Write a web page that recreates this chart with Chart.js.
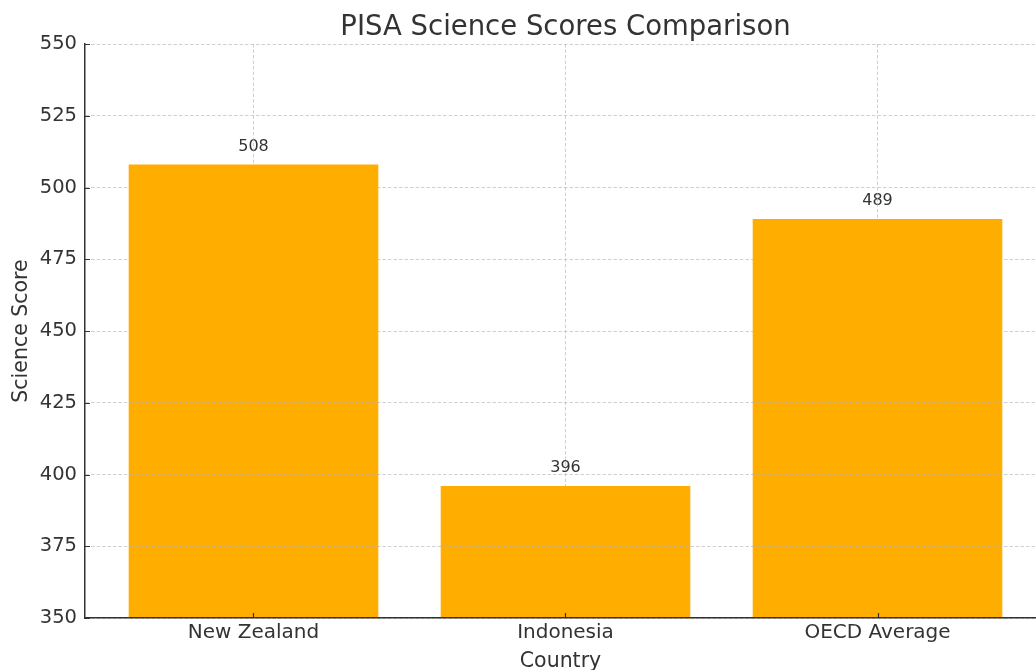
<!DOCTYPE html>
<html>
<head>
<meta charset="utf-8">
<script src="https://cdn.jsdelivr.net/npm/chart.js@4/dist/chart.umd.min.js"></script>
<style>
  html, body { margin: 0; padding: 0; background: #fff; overflow: hidden; }
  #wrap { width: 1036px; height: 670px; }
</style>
</head>
<body>
<div id="wrap"><canvas id="chart" width="1036" height="670"></canvas></div>
<script>
const countries = ["New Zealand", "Indonesia", "OECD Average"];
const scores = [508, 396, 489];
const yTicks = [350, 375, 400, 425, 450, 475, 500, 525, 550];

const FONT = "'DejaVu Sans', sans-serif";
const TEXT = "#333333";
const BAR = "#FFAE00";
const GRID = "rgba(176, 176, 176, 0.6)";

// values above bars, centred title, small inward tick marks
const extras = {
  id: "extras",
  afterDatasetsDraw(chart) {
    const ctx = chart.ctx;
    ctx.save();
    ctx.fillStyle = TEXT;
    ctx.textAlign = "center";
    ctx.textBaseline = "alphabetic";
    ctx.font = "16px " + FONT;
    chart.getDatasetMeta(0).data.forEach((bar, i) => {
      ctx.fillText(String(scores[i]), bar.x, bar.y - 14);
    });
    ctx.font = "27.5px " + FONT;
    const xs = chart.scales.x;
    const mid = xs.getPixelForValue((countries.length - 1) / 2);
    ctx.fillText("PISA Science Scores Comparison", mid, 35);
    ctx.restore();
  },
  afterDraw(chart) {
    const { ctx, chartArea, scales } = chart;
    ctx.save();
    ctx.strokeStyle = "#333333";
    ctx.lineWidth = 1.2;
    ctx.beginPath();
    scales.y.ticks.forEach((t) => {
      const y = Math.round(scales.y.getPixelForValue(t.value)) + 0.5;
      ctx.moveTo(chartArea.left, y);
      ctx.lineTo(chartArea.left + 5, y);
    });
    scales.x.ticks.forEach((t) => {
      const x = Math.round(scales.x.getPixelForValue(t.value)) + 0.5;
      ctx.moveTo(x, chartArea.bottom);
      ctx.lineTo(x, chartArea.bottom - 5);
    });
    ctx.stroke();
    ctx.restore();
  },
};

new Chart(document.getElementById("chart"), {
  type: "bar",
  data: {
    datasets: [
      {
        data: countries.map((c, i) => ({ x: i, y: scores[i] })),
        backgroundColor: BAR,
        borderWidth: 0,
        barPercentage: 0.8,
        categoryPercentage: 1,
      },
    ],
  },
  plugins: [extras],
  options: {
    responsive: false,
    animation: false,
    layout: { padding: { top: 44, right: 0, left: 0, bottom: 0 } },
    plugins: {
      legend: { display: false },
      tooltip: { enabled: false },
      title: { display: false },
    },
    scales: {
      x: {
        type: "linear",
        offset: false,
        min: -0.54,
        max: 2.508,
        afterBuildTicks: (s) => {
          s.ticks = countries.map((c, i) => ({ value: i }));
        },
        afterFit: (s) => { s.height = 52; },
        grid: { color: GRID, lineWidth: 1, drawTicks: false, offset: false, z: 1 },
        border: { color: "#333333", width: 1.5, dash: [3.5, 2], z: 2 },
        ticks: {
          color: TEXT,
          font: { family: FONT, size: 20 },
          padding: 3,
          autoSkip: false,
          maxRotation: 0,
          callback: (v) => countries[v],
        },
        title: {
          display: true,
          text: "Country",
          color: TEXT,
          font: { family: FONT, size: 20.5 },
          padding: { top: 0, bottom: -4 },
        },
      },
      y: {
        min: 350,
        max: 550,
        afterBuildTicks: (s) => {
          s.ticks = yTicks.map((v) => ({ value: v }));
        },
        afterFit: (s) => { s.width = 85; },
        grid: { color: GRID, lineWidth: 1, drawTicks: false, z: 1 },
        border: { color: "#333333", width: 1.5, dash: [3.5, 2], z: 2 },
        ticks: {
          color: TEXT,
          font: { family: FONT, size: 19.5 },
          padding: 8,
        },
        title: {
          display: true,
          text: "Science Score",
          color: TEXT,
          font: { family: FONT, size: 20.5 },
          padding: { top: 9, bottom: 0 },
        },
      },
    },
  },
});
</script>
</body>
</html>
